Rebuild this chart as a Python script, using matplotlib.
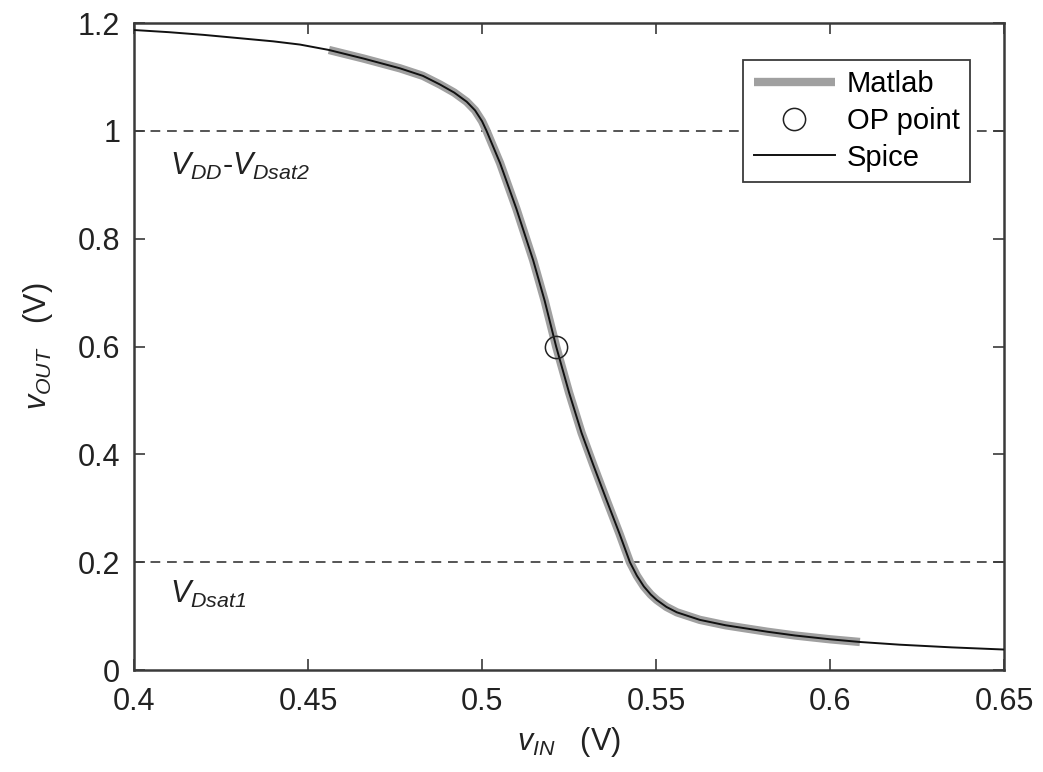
import matplotlib
matplotlib.use("Agg")
import matplotlib.pyplot as plt

# Curva de transferência (Spice)
spice_x = [0.400, 0.410, 0.420, 0.430, 0.440, 0.4477, 0.456, 0.466, 0.4764,
           0.4830, 0.4879, 0.4920, 0.4956, 0.4980, 0.5000, 0.5013, 0.5052,
           0.5099, 0.5147, 0.5180, 0.5213, 0.5250, 0.5286, 0.5320, 0.5358,
           0.5395, 0.5425, 0.5445, 0.5465, 0.5485, 0.5502, 0.5530, 0.5560,
           0.5626, 0.5700, 0.5750, 0.5820, 0.5900, 0.6000, 0.6086, 0.6200,
           0.6350, 0.6500]
spice_y = [1.187, 1.183, 1.178, 1.172, 1.166, 1.160, 1.150, 1.134, 1.116,
           1.102, 1.086, 1.071, 1.054, 1.038, 1.018, 1.000, 0.940,
           0.855, 0.760, 0.685, 0.600, 0.515, 0.440, 0.380, 0.315,
           0.253, 0.200, 0.175, 0.155, 0.140, 0.130, 0.117, 0.107,
           0.093, 0.083, 0.078, 0.071, 0.064, 0.057, 0.052, 0.047,
           0.042, 0.038]

# Curva Matlab (mesmos valores, só no intervalo simulado)
matlab_x = [x for x in spice_x if 0.456 <= x <= 0.6086]
matlab_y = [y for x, y in zip(spice_x, spice_y) if 0.456 <= x <= 0.6086]

# Ponto de operação
op_x = [0.5213]
op_y = [0.6]

# Limites de saturação
v_limits = [1.0, 0.2]

x_ticks = [0.4, 0.45, 0.5, 0.55, 0.6, 0.65]
x_ticklabels = ["0.4", "0.45", "0.5", "0.55", "0.6", "0.65"]
y_ticks = [0, 0.2, 0.4, 0.6, 0.8, 1.0, 1.2]
y_ticklabels = ["0", "0.2", "0.4", "0.6", "0.8", "1", "1.2"]

plt.rcParams["font.family"] = ["Liberation Sans", "DejaVu Sans"]
plt.rcParams["mathtext.fontset"] = "custom"
plt.rcParams["mathtext.it"] = "Liberation Sans:italic"
plt.rcParams["mathtext.rm"] = "Liberation Sans:italic"

fig = plt.figure(figsize=(10.43, 7.72), dpi=100)
ax = fig.add_axes([0.1285, 0.1321, 0.8341, 0.8381])

axis_col = "#3a3a3a"
txt_col = "#222222"

for v in v_limits:
    ax.axhline(v, color="#555555", linestyle=(0, (5, 3.5)), linewidth=1.4, zorder=1)

ax.plot(matlab_x, matlab_y, color="#a0a0a0", linewidth=6, solid_capstyle="butt",
        label="Matlab", zorder=2)
ax.plot(op_x, op_y, linestyle="none", marker="o", markersize=16,
        markerfacecolor="none", markeredgecolor=txt_col, markeredgewidth=1.1,
        label="OP point", zorder=4)
ax.plot(spice_x, spice_y, color="#111111", linewidth=1.4, label="Spice", zorder=3)

ax.text(0.4103, 0.918, r"$V_{DD}$-$V_{Dsat2}$", fontsize=22, color=txt_col)
ax.text(0.4103, 0.124, r"$V_{Dsat1}$", fontsize=22, color=txt_col)

ax.set_xlim(0.4, 0.65)
ax.set_ylim(0, 1.2)
ax.set_xticks(x_ticks)
ax.set_xticklabels(x_ticklabels)
ax.set_yticks(y_ticks)
ax.set_yticklabels(y_ticklabels)
ax.tick_params(direction="in", length=8, width=1.2, labelsize=22,
               colors=axis_col, labelcolor=txt_col, pad=12,
               top=True, right=True)
ax.tick_params(axis="y", pad=10)
for s in ax.spines.values():
    s.set_color(axis_col)
    s.set_linewidth(1.8)

ax.set_xlabel(r"$v_{IN}$   (V)", fontsize=22, color=txt_col, labelpad=6)
ax.set_ylabel(r"$v_{OUT}$   (V)", fontsize=22, color=txt_col, labelpad=16)

leg = ax.legend(loc="upper right", bbox_to_anchor=(0.961, 0.943), fontsize=21,
                handlelength=2.8, handletextpad=0.4, borderpad=0.35,
                labelspacing=0.3, borderaxespad=0, fancybox=False, framealpha=1,
                edgecolor=axis_col)
leg.get_frame().set_linewidth(1.3)

fig.savefig("out.png", dpi=100)
